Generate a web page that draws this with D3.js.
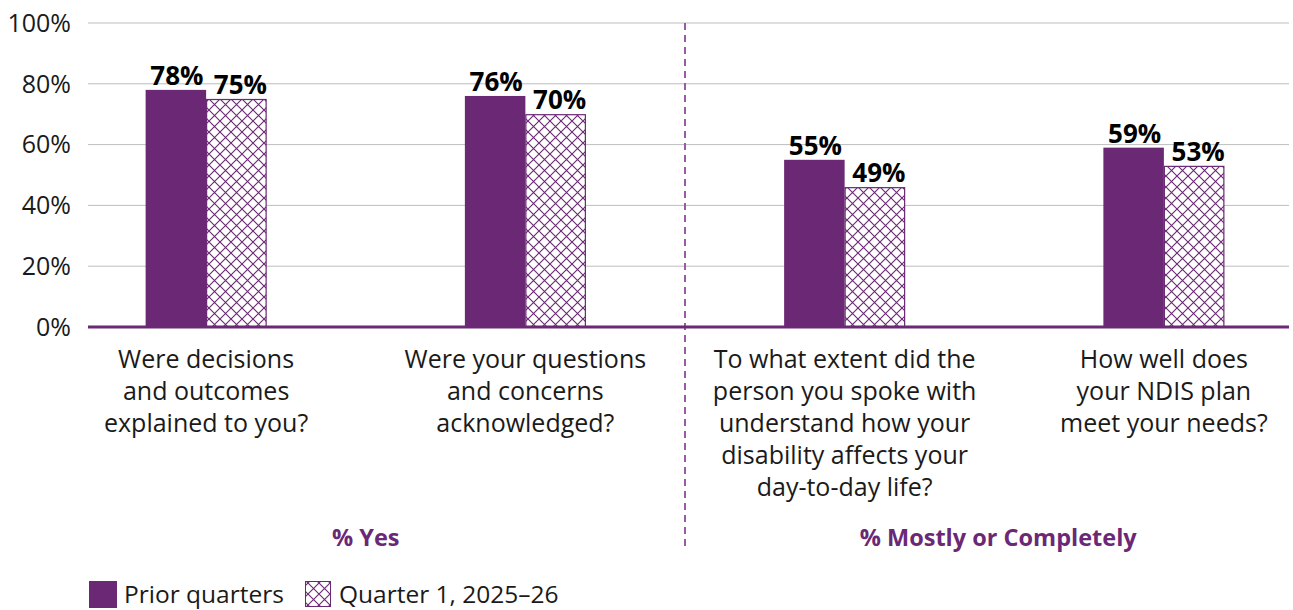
<!DOCTYPE html>
<html><head><meta charset="utf-8">
<script src="https://cdn.jsdelivr.net/npm/d3@7"></script>
<style>
html,body{margin:0;padding:0;background:#fff;}
svg{display:block;font-family:"Open Sans",sans-serif;}
</style></head>
<body>
<svg id="chart" width="1293" height="610"></svg>
<script>
const categories = [
  ["Were decisions","and outcomes","explained to you?"],
  ["Were your questions","and concerns","acknowledged?"],
  ["To what extent did the","person you spoke with","understand how your","disability affects your","day-to-day life?"],
  ["How well does","your NDIS plan","meet your needs?"]
];
const priorValues = [78, 76, 55, 59];
const priorLabels = ["78%", "76%", "55%", "59%"];
const q1Values = [75, 70, 46, 53];
const q1Labels = ["75%", "70%", "49%", "53%"];
const yTicks = [0, 20, 40, 60, 80, 100];
const groupLabels = ["% Yes", "% Mostly or Completely"];
const seriesNames = ["Prior quarters", "Quarter 1, 2025–26"];

(function(){
const purple = "#6b2874";
const svg = d3.select("#chart");
const defs = svg.append("defs");
const pat = defs.append("pattern").attr("id","hatch").attr("patternUnits","userSpaceOnUse")
  .attr("width",11).attr("height",11);
pat.append("rect").attr("width",11).attr("height",11).attr("fill","#fff");
pat.append("path").attr("d","M-1,-1 L12,12 M-1,12 L12,-1")
  .attr("stroke",purple).attr("stroke-width",1.1).attr("fill","none");

const pLeft = 88, pRight = 1289, pTop = 23, pBottom = 327;
const y = d3.scaleLinear().domain([0,100]).range([pBottom, pTop]);
const idx = d3.range(categories.length);
const x = d3.scalePoint().domain(idx).range([88, 1282]).padding(0.37);
const bw = 60.5;

svg.append("g").selectAll("line").data(yTicks.filter(d=>d>0)).join("line")
  .attr("x1",pLeft).attr("x2",pRight).attr("y1",d=>y(d)).attr("y2",d=>y(d))
  .attr("stroke","#bdbdbd").attr("stroke-width",1);

const yAxis = d3.axisLeft(y).tickValues(yTicks).tickFormat(d=>d+"%").tickSize(0).tickPadding(0);
const ya = svg.append("g").attr("transform",`translate(${71},0)`).call(yAxis);
ya.select(".domain").remove();
ya.selectAll("text").attr("font-size",25).attr("fill","#1a1a1a").attr("font-family","Open Sans").attr("dy","0.33em");

const divX = (x(1)+x(2))/2;
svg.append("line").attr("x1",divX).attr("x2",divX).attr("y1",pTop).attr("y2",547)
  .attr("stroke","#9a5aa5").attr("stroke-width",2).attr("stroke-dasharray","7,5");

svg.append("g").selectAll("rect").data(priorValues).join("rect")
  .attr("x",(d,i)=>x(i)-bw).attr("y",d=>y(d)).attr("width",bw).attr("height",d=>y(0)-y(d))
  .attr("fill",purple);
svg.append("g").selectAll("rect").data(q1Values).join("rect")
  .attr("x",(d,i)=>x(i)+0.5).attr("y",d=>y(d)+0.5).attr("width",bw-1).attr("height",d=>y(0)-y(d)-0.5)
  .attr("fill","url(#hatch)").attr("stroke",purple).attr("stroke-width",1.2);

svg.append("g").selectAll("text").data(priorValues).join("text")
  .attr("x",(d,i)=>x(i)-bw/2+1).attr("y",d=>y(d)-5).attr("text-anchor","middle")
  .attr("font-size",26).attr("font-weight",700).attr("fill","#000").text((d,i)=>priorLabels[i]);
svg.append("g").selectAll("text").data(q1Values).join("text")
  .attr("x",(d,i)=>x(i)+bw/2+4).attr("y",(d,i)=>y(d)-5).attr("text-anchor","middle")
  .attr("font-size",26).attr("font-weight",700).attr("fill","#000").text((d,i)=>q1Labels[i]);

svg.append("line").attr("x1",pLeft).attr("x2",pRight).attr("y1",y(0)).attr("y2",y(0))
  .attr("stroke",purple).attr("stroke-width",3);

const cl = svg.append("g").selectAll("text").data(categories).join("text")
  .attr("x",(d,i)=>x(i)).attr("y",368).attr("text-anchor","middle")
  .attr("font-size",25).attr("fill","#1a1a1a");
cl.selectAll("tspan").data(d=>d).join("tspan")
  .attr("x",function(){return d3.select(this.parentNode).attr("x");})
  .attr("dy",(d,j)=>j===0?0:32).text(d=>d);

svg.append("g").selectAll("text").data(groupLabels).join("text")
  .attr("x",(d,i)=>(x(2*i)+x(2*i+1))/2 - (i===1?6:0)).attr("y",546).attr("text-anchor","middle")
  .attr("font-size",23.5).attr("font-weight",700).attr("fill",purple).text(d=>d);

const lg = svg.append("g");
lg.append("rect").attr("x",89).attr("y",581).attr("width",28).attr("height",27).attr("fill",purple);
lg.append("text").attr("x",124).attr("y",603).attr("font-size",24.5).attr("fill","#1a1a1a").text(seriesNames[0]);
lg.append("rect").attr("x",305.5).attr("y",581.5).attr("width",25).attr("height",25)
  .attr("fill","url(#hatch)").attr("stroke",purple).attr("stroke-width",1);
lg.append("text").attr("x",339).attr("y",603).attr("font-size",24.5).attr("fill","#1a1a1a").text(seriesNames[1]);
})();
</script>
</body></html>
